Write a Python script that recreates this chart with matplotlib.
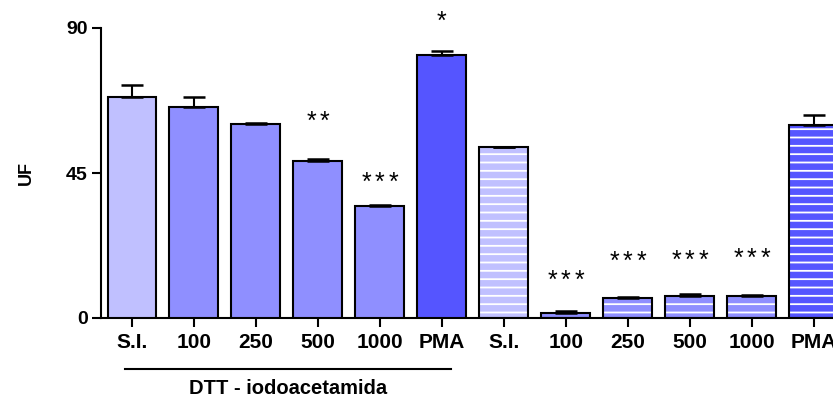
import matplotlib
matplotlib.use("Agg")
import matplotlib.pyplot as plt
import matplotlib.transforms as mtransforms

plt.rcParams.update({
    'font.family': ['Liberation Sans', 'DejaVu Sans'],
    'hatch.linewidth': 1.3,
    'axes.linewidth': 1.5,
})

# UF per condition: first six plain, last six striped
labels = ['S.I.', '100', '250', '500', '1000', 'PMA',
          'S.I.', '100', '250', '500', '1000', 'PMA']
means = [68.6, 65.5, 60.2, 48.7, 34.8, 81.6,
         53.0, 1.6, 6.3, 6.9, 6.8, 59.8]
sems = [3.7, 3.1, 0.2, 0.5, 0.4, 1.3,
        0.2, 0.5, 0.3, 0.4, 0.2, 3.2]
signif = ['', '', '', '**', '***', '*',
          '', '***', '***', '***', '***', '']
signif_y = [0, 0, 0, 62.7, 43.8, 93.7,
            0, 13.3, 19.2, 19.6, 20.2, 0]
striped = [False] * 6 + [True] * 6

shade = {'S.I.': '#C0C0FF', 'PMA': '#5555FF'}
mid = '#8F8FFF'

fig = plt.figure(figsize=(8.33, 3.98), dpi=100)
ax = fig.add_axes([101 / 833, 80 / 398, 732 / 833, 290 / 398])

x = list(range(len(labels)))
width = 0.79
colors = [shade.get(lab, mid) for lab in labels]

for xi, m, c, s in zip(x, means, colors, striped):
    if s:
        ax.bar(xi, m, width, color=c, edgecolor='white', hatch='--',
               linewidth=0, zorder=2)
        ax.bar(xi, m, width, fill=False, edgecolor='black',
               linewidth=1.5, zorder=3)
    else:
        ax.bar(xi, m, width, color=c, edgecolor='black',
               linewidth=1.5, zorder=3)

ax.errorbar(x, means, yerr=[[0] * len(sems), sems], fmt='none',
            ecolor='black', elinewidth=1.5, capsize=8, capthick=1.8,
            zorder=4, clip_on=False)

# significance asterisks, spaced out one by one
pitch = 9.6  # points between asterisk centres
for xi, txt, ty in zip(x, signif, signif_y):
    n = len(txt)
    for k in range(n):
        dx = (k - (n - 1) / 2) * pitch
        ax.annotate('*', (xi, ty), xytext=(dx, -4), textcoords='offset points',
                    ha='center', va='center', fontsize=18,
                    annotation_clip=False)

ax.set_xlim(-0.5, 11.31)
ax.set_ylim(0, 90)
ax.set_yticks([0, 45, 90])
ax.set_xticks(x)
ax.set_xticklabels(labels, fontweight='bold', fontsize=15)
for lab in ax.get_yticklabels():
    lab.set_fontweight('bold')
    lab.set_fontsize(14)
ax.tick_params(axis='both', length=6.5, width=1.5, direction='out')
ax.tick_params(axis='x', pad=4)
ax.tick_params(axis='y', pad=3)

for side in ['top', 'right']:
    ax.spines[side].set_visible(False)
ax.spines['bottom'].set_bounds(-0.5, 11.6)

ax.set_ylabel('UF', fontweight='bold', fontsize=13)
ax.yaxis.set_label_coords(-0.091, 0.5)

# group bracket under the DTT conditions
trans = mtransforms.blended_transform_factory(ax.transData, ax.transAxes)
ax.plot([-0.11, 5.15], [-0.176, -0.176], color='black', linewidth=1.5,
        transform=trans, clip_on=False)
ax.text(2.52, -0.243, 'DTT - iodoacetamida', transform=trans,
        ha='center', va='center', fontweight='bold', fontsize=14.5)

fig.savefig('out.png', dpi=100)
